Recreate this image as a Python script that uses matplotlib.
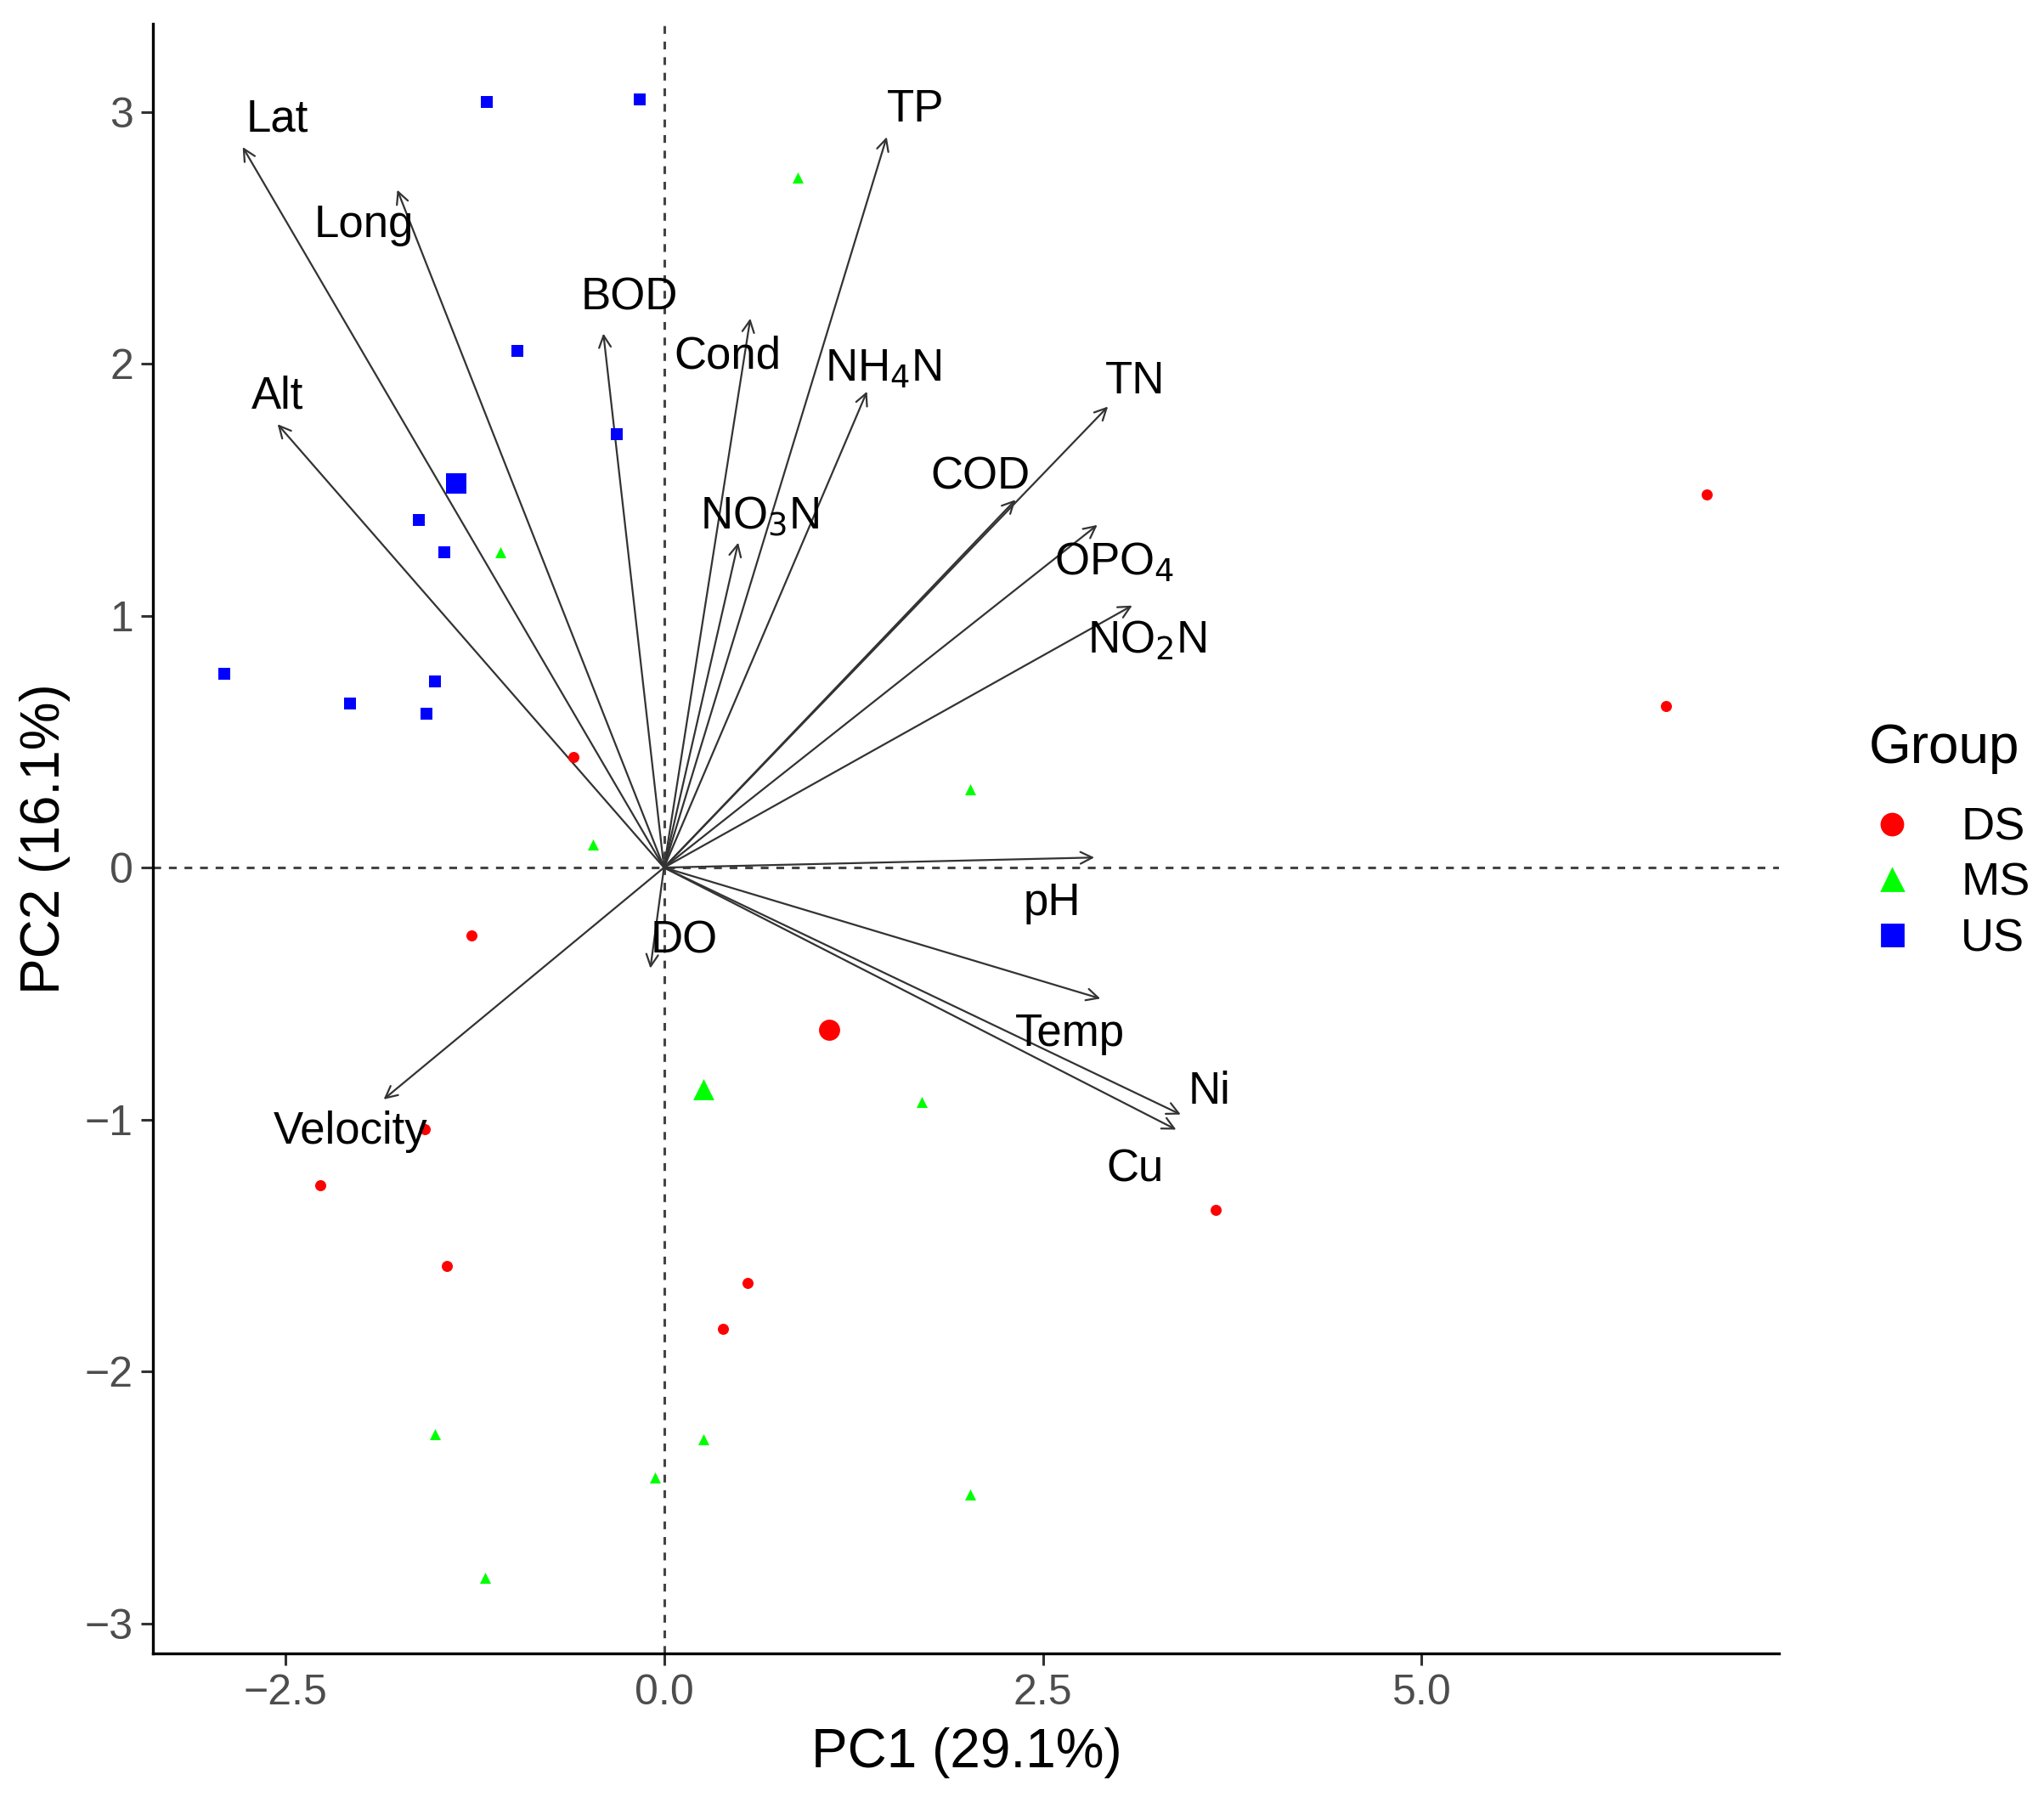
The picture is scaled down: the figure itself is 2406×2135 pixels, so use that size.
import matplotlib
matplotlib.use('Agg')
import matplotlib.pyplot as plt
from matplotlib.lines import Line2D
import numpy as np

plt.rcParams['font.family'] = ['Liberation Sans', 'DejaVu Sans']

# sample scores (PC1, PC2) per group
ds_x = [6.88, 6.61, -0.60, -1.27, -2.27, -1.43, 0.55, 0.39, 3.64, -1.58]
ds_y = [1.48, 0.64, 0.44, -0.27, -1.26, -1.58, -1.65, -1.83, -1.36, -1.04]
ms_x = [0.88, -1.08, 2.02, -0.47, 1.70, -1.51, 0.26, -0.06, 2.02, -1.18]
ms_y = [2.74, 1.25, 0.31, 0.09, -0.93, -2.25, -2.27, -2.42, -2.49, -2.82]
us_x = [-1.17, -0.16, -0.97, -0.31, -1.62, -1.45, -2.90, -2.07, -1.51, -1.57]
us_y = [3.04, 3.05, 2.05, 1.72, 1.38, 1.25, 0.77, 0.65, 0.74, 0.61]

# variable loadings (arrow tips) and label positions
var_names = ['Lat', 'Long', 'Alt', 'BOD', 'Cond', 'TP', 'NH$_4$N', 'NO$_3$N',
             'COD', 'TN', 'OPO$_4$', 'NO$_2$N', 'pH', 'Temp', 'Ni', 'Cu',
             'DO', 'Velocity']
var_x = [-2.78, -1.76, -2.55, -0.40, 0.57, 1.47, 1.34, 0.49,
         2.32, 2.93, 2.86, 3.09, 2.84, 2.88, 3.41, 3.38, -0.09, -1.85]
var_y = [2.86, 2.69, 1.76, 2.12, 2.18, 2.90, 1.89, 1.29,
         1.46, 1.83, 1.36, 1.04, 0.04, -0.52, -0.98, -1.04, -0.40, -0.92]
lab_x = [-2.55, -1.98, -2.55, -0.23, 0.42, 1.66, 1.45, 0.63,
         2.09, 3.11, 2.97, 3.19, 2.56, 2.68, 3.60, 3.11, 0.13, -2.07]
lab_y = [2.97, 2.55, 1.87, 2.26, 2.03, 3.01, 1.98, 1.39,
         1.55, 1.93, 1.21, 0.90, -0.14, -0.66, -0.89, -1.20, -0.29, -1.05]

groups = ['DS', 'MS', 'US']
colors = {'DS': '#FF0000', 'MS': '#00FF00', 'US': '#0000FF'}
markers = {'DS': 'o', 'MS': '^', 'US': 's'}
data = {'DS': (ds_x, ds_y), 'MS': (ms_x, ms_y), 'US': (us_x, us_y)}

fig = plt.figure(figsize=(12.03, 10.675), dpi=200)
ax = fig.add_axes([0.075, 0.0884, 0.7955, 0.8986])

ax.axhline(0, color='#444444', lw=1.1, ls=(0, (3, 3)), zorder=1)
ax.axvline(0, color='#444444', lw=1.1, ls=(0, (3, 3)), zorder=1)

for g in groups:
    gx, gy = data[g]
    ax.scatter(gx, gy, s=22, marker=markers[g], color=colors[g],
               linewidths=0, zorder=3)
    ax.scatter([np.mean(gx)], [np.mean(gy)], s=80, marker=markers[g],
               color=colors[g], linewidths=0, zorder=3)

for name, vx, vy, tx, ty in zip(var_names, var_x, var_y, lab_x, lab_y):
    ax.annotate('', xy=(vx, vy), xytext=(0, 0),
                arrowprops=dict(arrowstyle='->,head_length=0.5,head_width=0.25',
                                color='#333333', lw=0.8, shrinkA=0, shrinkB=0),
                zorder=2)
    ax.text(tx, ty, name, fontsize=19, ha='center', va='center', zorder=4)

ax.set_xlim(-3.37, 7.36)
ax.set_ylim(-3.12, 3.35)
ax.set_xticks([-2.5, 0.0, 2.5, 5.0])
ax.set_xticklabels(['\u22122.5', '0.0', '2.5', '5.0'])
ax.set_yticks([-3, -2, -1, 0, 1, 2, 3])
ax.set_yticklabels(['\u22123', '\u22122', '\u22121', '0', '1', '2', '3'])
ax.tick_params(labelsize=18, labelcolor='#4D4D4D', width=1.1, length=5,
               color='#333333')
for side in ['top', 'right']:
    ax.spines[side].set_visible(False)
for side in ['left', 'bottom']:
    ax.spines[side].set_linewidth(1.2)
ax.set_xlabel('PC1 (29.1%)', fontsize=23, labelpad=6)
ax.set_ylabel('PC2 (16.1%)', fontsize=23, labelpad=6)

handles = [Line2D([], [], ls='none', marker=markers[g], color=colors[g],
                  markersize=9, label=g) for g in groups]
leg = fig.legend(handles=handles, title='Group', loc='upper left',
                 bbox_to_anchor=(0.912, 0.604), frameon=False, fontsize=19.5,
                 title_fontsize=23, handlelength=1.0, handletextpad=1.0,
                 labelspacing=0.28, borderpad=0.1, borderaxespad=0)
leg._legend_box.align = 'left'
leg._legend_box.sep = 14

fig.savefig('out.png', dpi=200)
